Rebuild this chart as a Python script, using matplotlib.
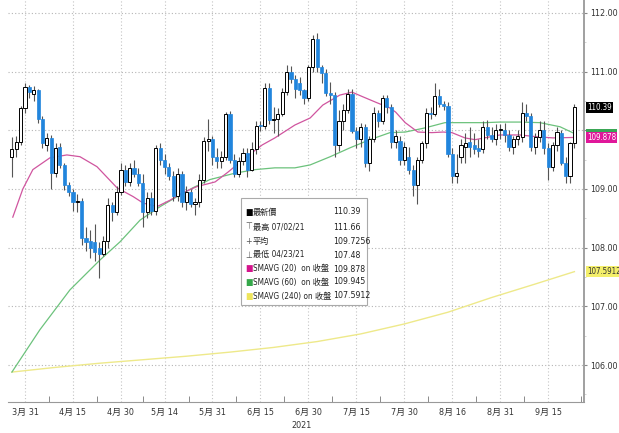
import numpy as np
import pandas as pd
import matplotlib
matplotlib.use("Agg")
import matplotlib.pyplot as plt
from matplotlib import ticker
from matplotlib.patches import Rectangle

plt.rcParams["font.family"] = ["DejaVu Sans", "Noto Sans CJK TC"]
plt.rcParams["font.stretch"] = "condensed"

# daily USD/JPY candles, 2021-03-26 .. 2021-09-23 (one value per weekday)
dates = pd.bdate_range("2021-03-26", "2021-09-23")

opens = [
    109.55, 109.68, 109.80, 110.38,  # Mar
    110.74, 110.62, 110.68, 110.20, 109.75, 109.86, 109.27, 109.72, 109.40, 109.07, 108.95,
    108.78, 108.80, 108.17, 108.12, 108.10, 108.00, 107.90, 108.12, 108.72, 108.60, 108.95,  # Apr
    109.32, 109.12, 109.35, 109.25, 109.10, 108.60, 108.85, 108.62, 109.70, 109.50, 109.38,
    109.22, 108.88, 109.25, 108.78, 108.95, 108.75, 108.78, 109.15, 109.82, 109.85,  # May
    109.55, 109.48, 109.55, 110.28, 109.50, 109.25, 109.48, 109.62, 109.33, 109.68, 110.08,
    110.07, 110.72, 110.18, 110.20, 110.28, 110.65, 111.00, 110.88, 110.80, 110.68, 110.55,  # Jun
    111.08, 111.55, 111.08, 110.98, 110.63, 110.60, 109.75, 110.15, 110.35, 110.62, 109.98,
    109.85, 110.05, 109.45, 109.85, 110.30, 110.15, 110.55, 110.40, 109.80, 109.82, 109.50,  # Jul
    109.55, 109.33, 109.07, 109.50, 109.78, 110.30, 110.28, 110.58, 110.45, 110.42, 109.60,
    109.22, 109.55, 109.72, 109.80, 109.75, 109.70, 109.68, 110.05, 109.92, 109.85, 110.00,  # Aug
    110.00, 109.92, 109.72, 109.85, 109.88, 110.30, 110.25, 109.72, 109.88, 110.00, 109.70,
    109.38, 109.75, 109.95, 109.44, 109.22, 109.78,  # Sep
]
highs = [
    109.88, 109.90, 110.42, 110.80,
    110.78, 110.75, 110.70, 110.25, 109.95, 109.92, 109.78, 109.78, 109.45, 109.12, 109.00,
    108.92, 108.85, 108.35, 108.30, 108.40, 108.10, 108.20, 108.85, 108.78, 109.05, 109.45,
    109.40, 109.45, 109.50, 109.35, 109.25, 108.95, 108.95, 109.75, 109.78, 109.60, 109.45,
    109.30, 109.35, 109.30, 109.05, 109.00, 108.85, 109.25, 109.88, 110.20, 109.90,
    109.70, 109.65, 110.32, 110.33, 109.60, 109.55, 109.70, 109.70, 109.80, 110.15, 110.16,
    110.80, 110.80, 110.40, 110.38, 110.72, 111.12, 111.10, 110.95, 110.90, 110.70, 111.12,
    111.62, 111.66, 111.12, 111.05, 110.82, 110.65, 110.35, 110.45, 110.70, 110.70, 110.05,
    110.12, 110.10, 109.90, 110.40, 110.35, 110.60, 110.60, 110.45, 110.00, 109.90, 109.80,
    109.72, 109.40, 109.55, 109.82, 110.38, 110.40, 110.80, 110.70, 110.50, 110.48, 109.70,
    109.60, 109.85, 109.95, 110.05, 109.95, 109.85, 110.15, 110.18, 110.05, 110.10, 110.10,
    110.12, 110.00, 109.90, 110.00, 110.48, 110.45, 110.30, 109.95, 110.15, 110.15, 109.78,
    109.80, 110.05, 110.00, 109.55, 109.80, 110.45,
]
lows = [
    109.20, 109.55, 109.75, 110.30,
    110.55, 110.50, 110.12, 109.70, 109.65, 109.00, 109.20, 109.35, 108.98, 108.88, 108.62,
    108.60, 108.05, 107.95, 107.82, 107.78, 107.48, 107.85, 108.00, 108.45, 108.55, 108.90,
    109.05, 109.05, 109.20, 109.05, 108.35, 108.50, 108.55, 108.55, 109.40, 109.25, 109.15,
    108.80, 108.80, 108.70, 108.65, 108.70, 108.55, 108.70, 109.10, 109.65, 109.40,
    109.35, 109.35, 109.50, 109.45, 109.20, 109.20, 109.40, 109.20, 109.30, 109.60, 109.98,
    110.02, 110.10, 109.95, 109.90, 110.25, 110.60, 110.80, 110.55, 110.60, 110.45, 110.50,
    111.00, 111.00, 110.80, 110.58, 110.45, 109.55, 109.65, 110.00, 110.30, 109.95, 109.70,
    109.72, 109.38, 109.30, 109.80, 110.05, 110.10, 110.30, 109.70, 109.70, 109.40, 109.40,
    109.25, 108.88, 108.75, 109.45, 109.70, 110.20, 110.25, 110.40, 110.35, 109.55, 109.10,
    109.10, 109.45, 109.45, 109.55, 109.60, 109.55, 109.62, 109.85, 109.80, 109.75, 109.85,
    109.80, 109.65, 109.60, 109.75, 109.80, 110.15, 109.65, 109.60, 109.80, 109.60, 109.15,
    109.30, 109.65, 109.40, 109.10, 109.10, 109.70,
]
closes = [
    109.68, 109.80, 110.38, 110.74,
    110.65, 110.68, 110.20, 109.78, 109.86, 109.27, 109.70, 109.40, 109.07, 108.95, 108.78,
    108.80, 108.17, 108.10, 108.00, 107.92, 107.90, 108.12, 108.72, 108.60, 108.95, 109.32,
    109.12, 109.35, 109.25, 109.10, 108.60, 108.85, 108.62, 109.70, 109.50, 109.38, 109.22,
    108.88, 109.25, 108.78, 108.95, 108.75, 108.78, 109.15, 109.82, 109.85, 109.55,
    109.48, 109.55, 110.28, 109.50, 109.25, 109.48, 109.62, 109.33, 109.68, 110.08, 110.07,
    110.72, 110.18, 110.20, 110.28, 110.65, 111.00, 110.88, 110.70, 110.68, 110.55, 111.08,
    111.55, 111.08, 110.98, 110.63, 110.60, 109.75, 110.15, 110.35, 110.62, 109.98, 109.85,
    110.05, 109.45, 109.85, 110.30, 110.15, 110.55, 110.40, 109.80, 109.90, 109.50, 109.72,
    109.33, 109.07, 109.50, 109.78, 110.30, 110.28, 110.58, 110.45, 110.42, 109.60, 109.22,
    109.28, 109.75, 109.78, 109.72, 109.68, 109.65, 110.05, 109.92, 109.85, 110.00, 110.02,
    109.92, 109.72, 109.85, 109.90, 110.30, 110.25, 109.72, 109.88, 110.00, 109.70, 109.38,
    109.75, 109.97, 109.44, 109.22, 109.78, 110.39,
]

# moving averages (candle index -> value)
ma20_idx = [0.2, 2.5, 4.8, 8.7, 12.6, 15.6, 19.5, 24.1, 27.8, 30.1, 33.3, 36.3, 39, 42.4,
            46.6, 49.6, 53.5, 57.4, 60.3, 64.9, 68.4, 71.3, 75.2, 78, 80.5, 83.7, 86.7,
            88, 90.2, 93.1, 96.3, 98.9, 100.9, 103.9, 106.2, 111.9, 116.5, 120.4, 124.1, 129]
ma20 = [108.52, 109.00, 109.33, 109.53, 109.58, 109.55, 109.38, 109.02, 108.87, 108.76,
        108.70, 108.81, 108.93, 109.04, 109.12, 109.29, 109.53, 109.75, 109.87, 110.09,
        110.21, 110.43, 110.60, 110.65, 110.57, 110.47, 110.38, 110.31, 110.13, 109.97,
        109.96, 109.97, 109.96, 109.87, 109.84, 109.92, 109.92, 109.89, 109.87, 109.878]
ma60_idx = [0, 6.4, 13.3, 20.2, 24.8, 29.4, 34, 37.9, 41.5, 45.4, 51.2, 55.8, 60.3, 64.9,
            68.4, 73, 77.5, 82.1, 86.7, 90.2, 94.7, 99.3, 103.9, 108.5, 111.9, 116.5,
            121.1, 125.7, 129]
ma60 = [105.88, 106.60, 107.28, 107.79, 108.10, 108.47, 108.70, 108.87, 109.02, 109.16,
        109.27, 109.33, 109.36, 109.36, 109.41, 109.55, 109.70, 109.84, 109.96, 109.97,
        110.04, 110.13, 110.13, 110.13, 110.14, 110.14, 110.13, 110.06, 109.945]
ma240_idx = [0, 10, 20, 30, 40, 50, 60, 70, 80, 90, 100, 110, 120, 129]
ma240 = [105.88, 105.96, 106.03, 106.09, 106.15, 106.22, 106.30, 106.40, 106.53, 106.70,
         106.90, 107.15, 107.38, 107.5912]

tick_dates = ["2021-03-31", "2021-04-15", "2021-04-30", "2021-05-14", "2021-05-31",
              "2021-06-15", "2021-06-30", "2021-07-15", "2021-07-30", "2021-08-16",
              "2021-08-31", "2021-09-15"]
tick_labels = ["3月 31", "4月 15", "4月 30", "5月 14", "5月 31", "6月 15", "6月 30",
               "7月 15", "7月 30", "8月 16", "8月 31", "9月 15"]
price_ticks = [106, 107, 108, 109, 110, 111, 112]
price_labels = ["106.00", "107.00", "108.00", "109.00", "", "111.00", "112.00"]

legend_labels = ["最新價", "最高 07/02/21", "平均", "最低 04/23/21",
                 "SMAVG (20)  on 收盤", "SMAVG (60)  on 收盤", "SMAVG (240) on 收盤"]
legend_values = ["110.39", "111.66", "109.7256", "107.48", "109.878", "109.945", "107.5912"]

BLUE = "#2185dd"
PINK = "#d0559f"
GREEN = "#6cc27c"
YELLOW = "#eee98a"

o = np.array(opens)
h = np.array(highs)
l = np.array(lows)
c = np.array(closes)
x = np.arange(len(dates))

fig = plt.figure(figsize=(6.19, 4.33), dpi=100)
ax = fig.add_axes([8 / 619, 31 / 433, 576 / 619, 402 / 433])

# moving averages
ax.plot(ma240_idx, ma240, color=YELLOW, lw=1.0, zorder=2)
ax.plot(ma60_idx, ma60, color=GREEN, lw=0.9, zorder=2)
ax.plot(ma20_idx, ma20, color=PINK, lw=0.9, zorder=2)

# candles
up = c >= o
ax.vlines(x, l, h, color="#555555", lw=0.8, zorder=3)
body = np.maximum(np.abs(c - o), 0.02)
bottom = np.minimum(o, c)
ax.bar(x[up], body[up], bottom=bottom[up], width=0.72, color="white",
       edgecolor="black", lw=0.7, zorder=4)
ax.bar(x[~up], body[~up], bottom=bottom[~up], width=0.72, color=BLUE,
       edgecolor=BLUE, lw=0.5, zorder=4)

ax.set_xlim(-0.9, 131.2)
ax.set_ylim(105.37, 112.22)

# axes / ticks
tick_pos = dates.get_indexer(pd.to_datetime(tick_dates))
ax.set_xticks(tick_pos)
ax.set_xticklabels(tick_labels)
mids = (tick_pos[:-1] + tick_pos[1:]) / 2
ax.xaxis.set_minor_locator(ticker.FixedLocator(list(mids) + [tick_pos[-1] + 7.5]))
ax.tick_params(axis="x", which="major", length=0, labelsize=6.5, pad=4, labelcolor="#333333")
ax.tick_params(axis="x", which="minor", direction="in", length=4, color="#777777")

ax.yaxis.tick_right()
ax.set_yticks(price_ticks)
ax.set_yticklabels(price_labels)
ax.yaxis.set_minor_locator(ticker.MultipleLocator(0.5))
ax.tick_params(axis="y", which="major", length=2.5, labelsize=6.4, pad=2,
               color="#888888", labelcolor="#333333")
ax.tick_params(axis="y", which="minor", length=1.5, color="#cccccc")

ax.grid(axis="y", which="major", linestyle=(0, (1, 2)), color="#b5b5b5", lw=0.8)
ax.grid(axis="x", which="major", linestyle=(0, (1, 2)), color="#c5c5c5", lw=0.8)
ax.set_axisbelow(True)

ax.spines["top"].set_visible(False)
ax.spines["left"].set_visible(False)
ax.spines["right"].set_color("#999999")
ax.spines["right"].set_linewidth(1.3)
ax.spines["bottom"].set_color("#999999")

fig.text(302 / 619, 1 - 425 / 433, "2021", fontsize=6.5, color="#333333",
         ha="center", va="center")

# value tags on the right axis
tr = ax.get_yaxis_transform()
ax.add_patch(Rectangle((1.003, float(legend_values[5]) - 0.085), 0.054, 0.17,
                       transform=tr, fc="#3aa655", ec="none", clip_on=False, zorder=5))
tag_style = dict(transform=tr, fontsize=5.7, va="center", ha="left", clip_on=False,
                 zorder=6)
tag_box = dict(boxstyle="square,pad=0.15", ec="none")
ax.text(1.005, float(legend_values[4]), "109.878", color="white",
        bbox=dict(tag_box, fc="#e0179a"), **tag_style)
ax.text(1.005, float(legend_values[0]), "110.39", color="white",
        bbox=dict(tag_box, fc="black"), **tag_style)
ax.text(1.005, float(legend_values[6]), "107.5912", color="#333333",
        bbox=dict(tag_box, fc="#f4ef6a"), **tag_style)

# legend box
W, H = 619, 433
fig.patches.append(Rectangle((241 / W, 1 - 305 / H), 126 / W, 107 / H,
                             transform=fig.transFigure, fc="white", ec="#aaaaaa",
                             lw=0.8, zorder=10))
row_y = [212, 227, 241, 255, 269, 282, 296]
markers = [("■", "black"), ("⊤", "#555555"), ("+", "#555555"), ("⊥", "#555555"),
           ("■", "#d4148c"), ("■", "#35a84a"), ("■", "#eee45a")]
for yy, (m, mc), lab, val in zip(row_y, markers, legend_labels, legend_values):
    fy = 1 - yy / H
    fig.text(245 / W, fy, m, color=mc, fontsize=6.3, ha="left", va="center", zorder=11)
    fig.text(253 / W, fy, lab, color="#222222", fontsize=5.9, ha="left", va="center",
             zorder=11)
    fig.text(333 / W, fy, val, color="#222222", fontsize=6.3, ha="left", va="center",
             zorder=11)

fig.savefig("out.png", dpi=100)
